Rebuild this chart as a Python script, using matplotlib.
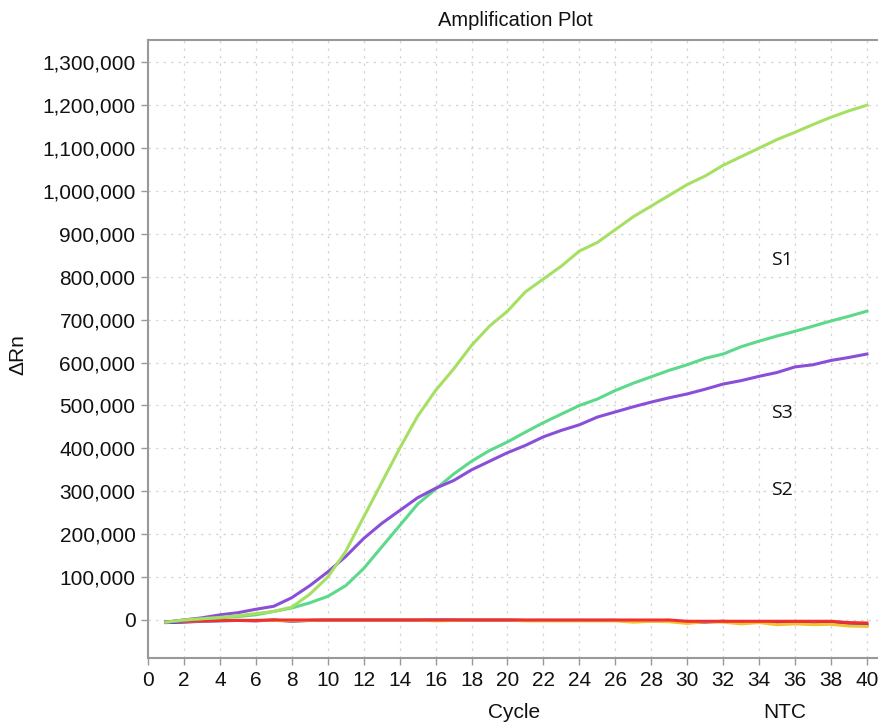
import matplotlib
matplotlib.use("Agg")
import matplotlib.pyplot as plt
from matplotlib.ticker import FuncFormatter

cycles = list(range(1, 41))

s1 = [-5000, 0, 3000, 6000, 10000, 15000, 20000, 30000, 60000, 100000,
      160000, 240000, 320000, 400000, 475000, 535000, 585000, 640000, 685000, 720000,
      765000, 795000, 825000, 860000, 880000, 910000, 940000, 965000, 990000, 1015000,
      1035000, 1060000, 1080000, 1100000, 1120000, 1137000, 1155000, 1172000, 1187000, 1200000]
s3 = [-5000, 0, 3000, 5000, 8000, 12000, 20000, 28000, 40000, 55000,
      80000, 120000, 170000, 220000, 270000, 305000, 340000, 370000, 395000, 415000,
      438000, 460000, 480000, 500000, 515000, 535000, 552000, 567000, 582000, 595000,
      610000, 620000, 637000, 650000, 662000, 673000, 685000, 697000, 708000, 720000]
s2 = [-5000, 0, 5000, 12000, 17000, 25000, 32000, 52000, 80000, 112000,
      148000, 190000, 225000, 255000, 285000, 307000, 325000, 350000, 370000, 390000,
      407000, 427000, 442000, 455000, 473000, 485000, 497000, 508000, 518000, 527000,
      538000, 550000, 558000, 568000, 577000, 590000, 595000, 605000, 612000, 620000]
ntc_blue = [-6000, -5000, -3000, -2000, -1000, -2000, 0, -3000, -1000, 0,
            0, 0, 0, 0, 0, 0, 0, 0, 0, 0,
            -1000, -1000, -1000, -1000, -1000, -1000, -2000, -2000, -1000, -6000,
            -5000, -3000, -7000, -4000, -6000, -6000, -9000, -7000, -10000, -12000]
ntc_yellow = [-4000, -3000, -2000, -1000, -1000, -1000, -1000, -2000, -1000, 0,
              0, 0, 0, 0, 0, -2000, -1000, 0, 0, 0,
              -2000, -2000, -2000, -2000, -2000, -2000, -5000, -3000, -4000, -8000,
              -4000, -5000, -9000, -6000, -11000, -9000, -11000, -10000, -14000, -15000]
ntc_red = [-4000, -3000, -2000, -1000, -1000, -1000, 0, 0, 0, 0,
           0, 0, 0, 0, 0, 0, 0, 0, 0, 0,
           0, 0, 0, 0, 0, 0, 0, 0, 0, -3000,
           -3000, -3000, -3000, -3000, -3000, -3000, -3000, -3000, -6000, -7000]

yticks = list(range(0, 1300001, 100000))
xticks = list(range(0, 41, 2))

plt.rcParams['font.family'] = ['Liberation Sans', 'DejaVu Sans']

fig = plt.figure(figsize=(8.79, 7.24), dpi=100)
ax = fig.add_axes([148/879, 1 - 658/724, 1 - 148/879, (658 - 40)/724])

ax.set_xlim(0, 40.67)
ax.set_ylim(-88600, 1352000)

ax.set_xticks(xticks)
ax.set_yticks(yticks)
ax.yaxis.set_major_formatter(FuncFormatter(lambda v, p: f"{int(v):,}"))
ax.grid(True, color='#d6d6d6', linestyle=(0, (2, 4)), linewidth=0.9)
ax.set_axisbelow(True)

ax.plot(cycles, ntc_blue, color='#3a3ad0', lw=2.2)
ax.plot(cycles, ntc_yellow, color='#f2c230', lw=2.2)
ax.plot(cycles, ntc_red, color='#f03030', lw=2.2)
ax.plot(cycles, s3, color='#5cd98a', lw=2.2)
ax.plot(cycles, s2, color='#8a4fd8', lw=2.2)
ax.plot(cycles, s1, color='#a6e063', lw=2.2)

for side in ['left', 'bottom', 'top']:
    ax.spines[side].set_color('#999999')
    ax.spines[side].set_linewidth(1.5)
ax.spines['right'].set_visible(False)

ax.tick_params(axis='both', direction='out', length=5, width=1, color='#999999',
               labelsize=15, labelcolor='#111111', pad=4)

fig.text(515/879, 1 - 20/724, 'Amplification Plot', ha='center', va='center', fontsize=14.5, color='#111111')
fig.text(514/879, 1 - 712/724, 'Cycle', ha='center', va='center', fontsize=15, color='#111111')
fig.text(785/879, 1 - 712/724, 'NTC', ha='center', va='center', fontsize=15, color='#111111')
fig.text(18/879, 1 - 355/724, 'ΔRn', ha='center', va='center', rotation=90, fontsize=15, color='#111111')

for lbl, xx, yy in [('S1', 782, 260), ('S3', 782, 413), ('S2', 782, 490)]:
    fig.text(xx/879, 1 - yy/724, lbl, ha='center', va='center', fontsize=14, family=['Open Sans', 'DejaVu Sans'], color='#111111')

fig.savefig('out.png', dpi=100)
